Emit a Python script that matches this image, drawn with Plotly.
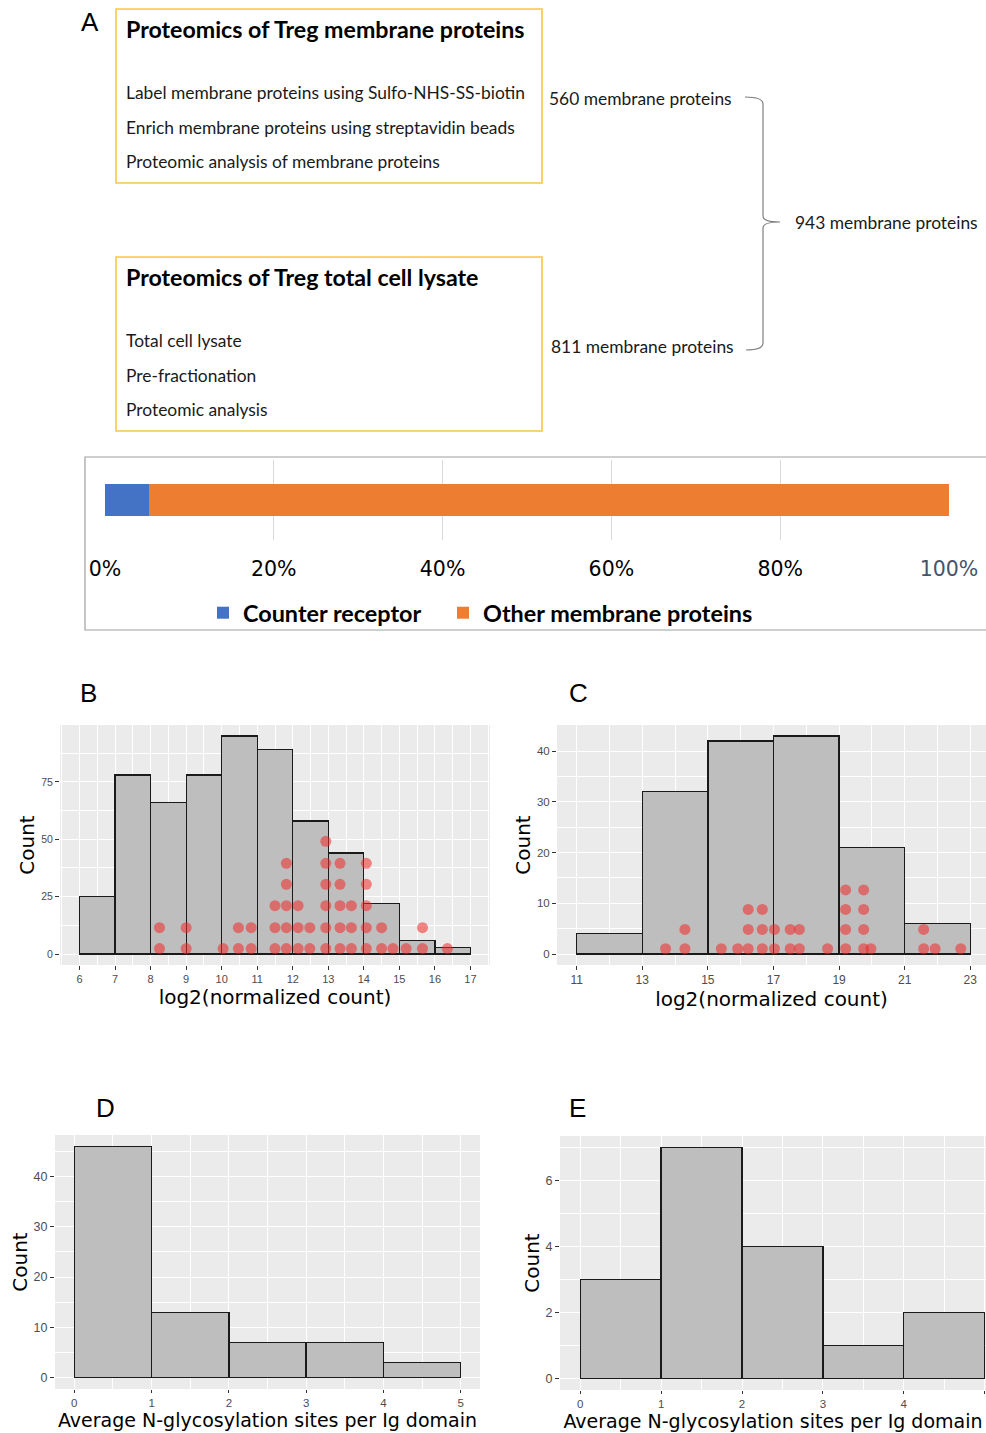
import plotly.graph_objects as go

W, H = 986, 1433

# ---------------- Panel A : stacked bar ----------------
a_categories = ["Counter receptor", "Other membrane proteins"]
a_percent = [5.2, 94.8]
a_colors = ["#4472c4", "#ed7d31"]
a_tick_vals = [0, 20, 40, 60, 80, 100]
a_tick_text = ["0%", "20%", "40%", "60%", "80%",
               '<span style="color:#44546a">100%</span>']

a_box1_title = "Proteomics of Treg membrane proteins"
a_box1_lines = ["Label membrane proteins using Sulfo-NHS-SS-biotin",
                "Enrich membrane proteins using streptavidin beads",
                "Proteomic analysis of membrane proteins"]
a_box2_title = "Proteomics of Treg total cell lysate"
a_box2_lines = ["Total cell lysate", "Pre-fractionation", "Proteomic analysis"]
a_counts_text = ["560 membrane proteins", "811 membrane proteins",
                 "943 membrane proteins"]

# ---------------- Panel B ----------------
b_bin_start = [6, 7, 8, 9, 10, 11, 12, 13, 14, 15, 16]
b_counts = [25, 78, 66, 78, 95, 89, 58, 44, 22, 6, 3]
b_bin_width = 1
b_dot_cols = [8.25, 9.0, 10.04, 10.47, 10.83, 11.50, 11.82, 12.15, 12.48,
              12.93, 13.33, 13.65, 14.07, 14.50, 14.82, 15.19, 15.65, 16.35]
b_dot_stack = [2, 2, 1, 2, 2, 3, 5, 3, 2, 6, 5, 3, 5, 2, 1, 1, 2, 1]
b_dot_levels = [2.4, 11.5, 21.1, 30.4, 39.5, 49.1]

# ---------------- Panel C ----------------
c_bin_start = [11, 13, 15, 17, 19, 21]
c_counts = [4, 32, 42, 43, 21, 6]
c_bin_width = 2
c_dot_cols = [13.71, 14.30, 15.41, 15.91, 16.23, 16.66, 17.03, 17.51, 17.79,
              18.65, 19.20, 19.75, 19.97, 21.58, 21.93, 22.71]
c_dot_stack = [1, 2, 1, 1, 3, 3, 2, 2, 2, 1, 4, 4, 1, 2, 1, 1]
c_dot_levels = [1.05, 4.85, 8.8, 12.65]

# ---------------- Panel D / E ----------------
d_bin_start = [0, 1, 2, 3, 4]
d_counts = [46, 13, 7, 7, 3]
e_bin_start = [0, 1, 2, 3, 4]
e_counts = [3, 7, 4, 1, 2]
de_bin_width = 1

x_title_bc = "log2(normalized count)"
x_title_de = "Average N-glycosylation sites per Ig domain"
y_title = "Count"


def X(p):
    return p / W


def Y(p):
    return 1 - p / H


def expand(cols, stack, levels):
    xs, ys = [], []
    for c, n in zip(cols, stack):
        for k in range(n):
            xs.append(c)
            ys.append(levels[k])
    return xs, ys


fig = go.Figure()

# Panel A bar traces
for i, (name, val, col) in enumerate(zip(a_categories, a_percent, a_colors)):
    fig.add_trace(go.Bar(
        x=[val], y=[0], orientation="h", name=name, width=0.4,
        marker=dict(color=col, line=dict(width=0)),
        xaxis="x", yaxis="y", legend="legend" if i == 0 else "legend2",
        showlegend=True))

HIST_FILL = "#bebebe"
DOT_COLOR = "rgba(240,40,40,0.55)"


def add_hist(starts, counts, width, xa, ya):
    centers = [s + width / 2 for s in starts]
    fig.add_trace(go.Bar(
        x=centers, y=counts, width=width, xaxis=xa, yaxis=ya,
        marker=dict(color=HIST_FILL, line=dict(color="#1a1a1a", width=1.3)),
        showlegend=False))


add_hist(b_bin_start, b_counts, b_bin_width, "x2", "y2")
bx, by = expand(b_dot_cols, b_dot_stack, b_dot_levels)
fig.add_trace(go.Scatter(x=bx, y=by, mode="markers", xaxis="x2", yaxis="y2",
                         marker=dict(size=11, color=DOT_COLOR, line=dict(width=0)),
                         showlegend=False))

add_hist(c_bin_start, c_counts, c_bin_width, "x3", "y3")
cx, cy = expand(c_dot_cols, c_dot_stack, c_dot_levels)
fig.add_trace(go.Scatter(x=cx, y=cy, mode="markers", xaxis="x3", yaxis="y3",
                         marker=dict(size=11, color=DOT_COLOR, line=dict(width=0)),
                         showlegend=False))

add_hist(d_bin_start, d_counts, de_bin_width, "x4", "y4")
add_hist(e_bin_start, e_counts, de_bin_width, "x5", "y5")

TICKFONT = "Liberation Sans"
TITLEFONT = "DejaVu Sans"


def gg_x(domain, rng, dtick, minor, tsize, title, standoff, tsz, tlen=4, tick0=0):
    return dict(domain=domain, range=rng, tick0=tick0, dtick=dtick,
                automargin=False,
                showgrid=True, gridcolor="white", gridwidth=1.2,
                minor=dict(dtick=minor, tick0=tick0, showgrid=True,
                           gridcolor="white", gridwidth=0.5, ticks=""),
                ticks="outside", ticklen=tlen, tickcolor="#333333", tickwidth=1,
                tickfont=dict(family=TICKFONT, size=tsize, color="#4d4d4d"),
                zeroline=False, showline=False, fixedrange=True,
                title=dict(text=title, standoff=standoff,
                           font=dict(family=TITLEFONT, size=tsz, color="black")))


def gg_y(domain, rng, dtick, minor, tsize, standoff, anchor):
    return dict(domain=domain, range=rng, tick0=0, dtick=dtick, anchor=anchor,
                automargin=False,
                showgrid=True, gridcolor="white", gridwidth=1.2,
                minor=dict(dtick=minor, tick0=minor, showgrid=True,
                           gridcolor="white", gridwidth=0.5, ticks=""),
                ticks="outside", ticklen=4, tickcolor="#333333", tickwidth=1,
                tickfont=dict(family=TICKFONT, size=tsize, color="#4d4d4d"),
                zeroline=False, showline=False, fixedrange=True,
                title=dict(text=y_title, standoff=standoff,
                           font=dict(family=TITLEFONT, size=20, color="black")))


LEG_FONT = dict(family="Lato", size=23.4, color="black", weight="bold")

layout = dict(
    width=W, height=H, autosize=False, margin=dict(l=0, r=0, t=0, b=0, pad=0),
    paper_bgcolor="white", plot_bgcolor="#ebebeb", barmode="stack",
    xaxis=dict(domain=[X(105), X(949)], range=[0, 100], anchor="y",
               automargin=False,
               tickvals=a_tick_vals, ticktext=a_tick_text,
               showgrid=True, gridcolor="#d9d9d9", gridwidth=1,
               ticks="", zeroline=False, showline=False, fixedrange=True,
               ticklabelstandoff=14,
               tickfont=dict(family="DejaVu Sans", size=20.5, color="black")),
    yaxis=dict(domain=[Y(540), Y(460)], range=[-0.5, 0.5], anchor="x",
               automargin=False,
               showticklabels=False, showgrid=False, zeroline=False,
               ticks="", fixedrange=True),
    xaxis2=gg_x([X(60), X(490)], [5.45, 17.55], 1, 0.5, 11, x_title_bc, 0, 20),
    yaxis2=gg_y([Y(965), Y(725)], [-4.75, 99.75], 25, 12.5, 10.5, 1, "x2"),
    xaxis3=gg_x([X(557), 1.0], [10.4, 23.48], 2, 1, 12, x_title_bc, 0, 20, tick0=11),
    yaxis3=gg_y([Y(965), Y(725)], [-2.15, 45.15], 10, 5, 11.5, 0, "x3"),
    xaxis4=gg_x([X(55), X(480)], [-0.25, 5.25], 1, 0.5, 11.5, x_title_de, 2, 19, tlen=3),
    yaxis4=gg_y([Y(1389), Y(1135)], [-2.3, 48.3], 10, 5, 12.5, 0, "x4"),
    xaxis5=gg_x([X(560), 1.0], [-0.25, 5.016], 1, 0.5, 11.5, x_title_de, 2, 19, tlen=3),
    yaxis5=gg_y([Y(1390), Y(1136)], [-0.35, 7.35], 2, 1, 12.5, 0, "x5"),
    legend=dict(x=X(203), y=Y(613), xanchor="left", yanchor="middle",
                orientation="h", bgcolor="rgba(0,0,0,0)", font=LEG_FONT),
    legend2=dict(x=X(443), y=Y(613), xanchor="left", yanchor="middle",
                 orientation="h", bgcolor="rgba(0,0,0,0)", font=LEG_FONT),
)
layout["xaxis2"]["anchor"] = "y2"
layout["xaxis3"]["anchor"] = "y3"
layout["xaxis4"]["anchor"] = "y4"
layout["xaxis5"]["anchor"] = "y5"
fig.update_layout(**layout)

shapes = []
# white background behind the stacked bar subplot (the ggplot panels stay grey)
shapes.append(dict(type="rect", xref="x domain", yref="y domain",
                   x0=-0.01, x1=1.01, y0=-0.01, y1=1.01, layer="below",
                   fillcolor="white", line=dict(width=0)))
# text boxes
for (x0, y0, x1, y1) in [(116, 9, 542, 183), (116, 257, 542, 431)]:
    shapes.append(dict(type="rect", xref="paper", yref="paper",
                       x0=X(x0), x1=X(x1), y0=Y(y1), y1=Y(y0),
                       line=dict(color="#f7c646", width=1.6)))
# frame around stacked bar chart
shapes.append(dict(type="rect", xref="paper", yref="paper",
                   x0=X(85), x1=X(990), y0=Y(630), y1=Y(457),
                   line=dict(color="#a0a0a0", width=1.2)))
# brace
path = (f"M {X(745)},{Y(97)} Q {X(763)},{Y(97)} {X(763)},{Y(104)} "
        f"L {X(763)},{Y(216)} Q {X(763)},{Y(222)} {X(780)},{Y(222)} "
        f"Q {X(763)},{Y(222)} {X(763)},{Y(228)} "
        f"L {X(763)},{Y(343)} Q {X(763)},{Y(350)} {X(746)},{Y(350)}")
shapes.append(dict(type="path", xref="paper", yref="paper", path=path,
                   line=dict(color="#7f7f7f", width=1.2)))
fig.update_layout(shapes=shapes)

ann = []


def text(x, y, s, size=17.4, bold=False, family="Lato", anchor="left", color="#1a1a1a"):
    ann.append(dict(x=X(x), y=Y(y), xref="paper", yref="paper", text=s,
                    showarrow=False, xanchor=anchor, yanchor="middle",
                    font=dict(family=family, size=size, color=color,
                              weight="bold" if bold else "normal")))


text(124, 29, a_box1_title, size=23.2, bold=True, color="black")
for s, yy in zip(a_box1_lines, [92, 127, 161]):
    text(124, yy, s)
text(124, 277, a_box2_title, size=23.2, bold=True, color="black")
for s, yy in zip(a_box2_lines, [340, 375, 409]):
    text(124, yy, s)
text(547, 98, a_counts_text[0])
text(549, 346, a_counts_text[1])
text(793, 222, a_counts_text[2])

for s, x, y in [("A", 90, 22), ("B", 88, 693), ("C", 578, 693),
                ("D", 105, 1108), ("E", 577, 1108)]:
    text(x, y, s, size=26, family="Liberation Sans", anchor="center", color="black")

fig.update_layout(annotations=ann)
fig.write_html(
    "out.html",
    config={"responsive": False, "displayModeBar": False},
    post_script="document.body.style.margin='0';document.body.style.overflow='hidden';",
)
